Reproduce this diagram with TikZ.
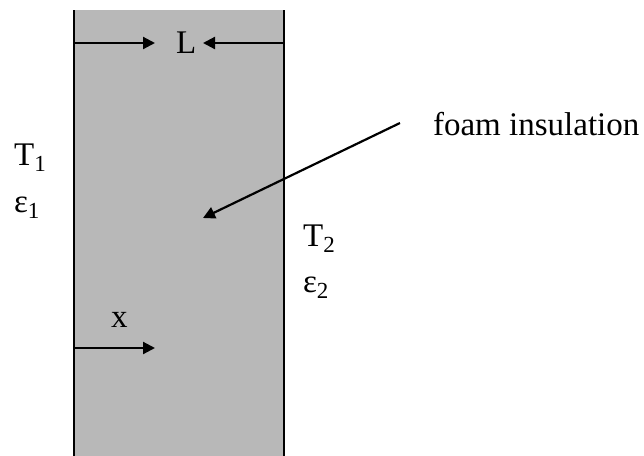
\documentclass[tikz,border=0pt]{standalone}
\usepackage{fontspec}
\setmainfont{Liberation Serif}
\usetikzlibrary{arrows.meta}
\newcommand{\subnum}[1]{\raisebox{-0.4ex}{\fontsize{11.5}{14}\selectfont #1}}

\begin{document}
\begin{tikzpicture}[x=0.5pt,y=-0.5pt,line width=1.1pt,
    lbl/.style={inner sep=0pt,font=\fontsize{16.5}{20}\selectfont},
    tip/.style={-{Triangle[length=6pt,width=6pt]}}]
 \useasboundingbox (0,0) rectangle (644,456);

 \fill[black!28] (74,10) rectangle (284,456);
 \draw (74,10) -- (74,456) (284,10) -- (284,456);

 \coordinate (Lleft) at (74,43); \coordinate (Lltip) at (155,43);
 \coordinate (Lright) at (284,43); \coordinate (Lrtip) at (203,43);
 \node[lbl,anchor=base west] (L) at (175,53) {L};
 \draw[tip] (Lleft) -- (Lltip);
 \draw[tip] (Lright) -- (Lrtip);

 \node[lbl,anchor=base west] (foam) at (432,135) {foam insulation};
 \coordinate (foamtail) at (400,123); \coordinate (foamtip) at (203,218);
 \draw[tip] (foamtail) -- (foamtip);

 \node[lbl,anchor=base west] (T1) at (13,165) {T\subnum{1}};
 \node[lbl,anchor=base west] (e1) at (13,212) {ε\subnum{1}};
 \node[lbl,anchor=base west] (T2) at (302,246) {T\subnum{2}};
 \node[lbl,anchor=base west] (e2) at (302,292) {ε\subnum{2}};

 \node[lbl,anchor=base west] (xlbl) at (110,327) {x};
 \coordinate (xleft) at (74,348); \coordinate (xtip) at (155,348);
 \draw[tip] (xleft) -- (xtip);
\end{tikzpicture}
\end{document}
